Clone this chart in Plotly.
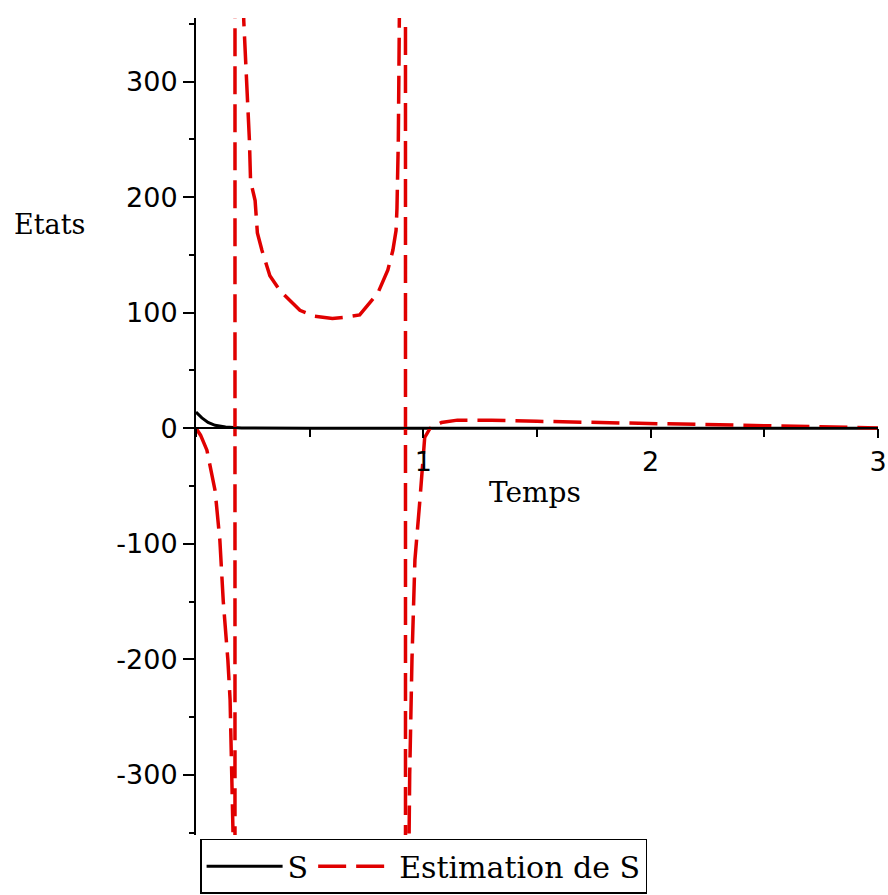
import plotly.graph_objects as go

# Data
t_s = [0, 0.01, 0.026, 0.053, 0.084, 0.13, 0.2, 0.5, 1.0, 1.5, 2.0, 2.5, 3.0]
s_vals = [14, 12, 9, 5, 2.5, 1, 0.3, 0, 0, 0, 0, 0, 0]

t_est = [0, 0.02, 0.048, 0.084, 0.105, 0.12, 0.14, 0.15, 0.163, 0.171, 0.172,
         0.205, 0.21, 0.225, 0.235, 0.24, 0.26, 0.27, 0.29, 0.325, 0.37, 0.457,
         0.523, 0.6, 0.655, 0.72, 0.8, 0.844, 0.866, 0.88, 0.884, 0.89, 0.897,
         0.905, 0.921, 0.922, 0.935, 0.94, 0.95, 0.963, 0.985, 0.998, 1.006,
         1.03, 1.08, 1.15, 1.3, 1.5, 1.75, 2.0, 2.2, 2.5, 2.75, 3.0]
est_vals = [0, -6, -19, -54, -97, -150, -200, -235, -352, -5000, 5000,
            420, 353, 297, 249, 214, 197, 169, 154, 132, 119, 102,
            97, 95, 96, 98, 117, 137, 154, 171, 190, 250, 350,
            600, 5000, -5000, -400, -300, -200, -114, -62, -23, -8,
            0, 5, 7, 7, 6, 5, 4, 3, 2, 1, 0.3]

y_ticks = [-300, -200, -100, 0, 100, 200, 300]
y_tick_text = ["-300", "-200", "-100", "0", "100", "200", "300"]
x_ticks = [1, 2, 3]
x_tick_text = ["1", "2", "3"]
y_range = [-352, 355]
x_range = [0, 3]

fig = go.Figure()
fig.add_trace(go.Scatter(x=t_s, y=s_vals, mode="lines", name="S",
                         line=dict(color="black", width=3)))
fig.add_trace(go.Scatter(x=t_est, y=est_vals, mode="lines", name="Estimation de S",
                         line=dict(color="#e00000", width=3.5, dash="28px,10px")))

zero_pos = (0 - y_range[0]) / (y_range[1] - y_range[0])

fig.update_layout(
    width=888, height=895,
    margin=dict(l=196, r=10, t=18, b=60, autoexpand=False),
    plot_bgcolor="white", paper_bgcolor="white",
    font=dict(family="DejaVu Sans", color="black"),
    xaxis=dict(range=x_range, anchor="free", position=zero_pos, automargin=False,
               showline=True, linecolor="black", linewidth=2,
               tickvals=x_ticks, ticktext=x_tick_text,
               ticks="outside", ticklen=9, tickwidth=1.5, tickcolor="black",
               minor=dict(dtick=0.5, ticks="outside", ticklen=8, tickwidth=1.5, tickcolor="black"),
               tickfont=dict(size=27, family="DejaVu Sans"),
               showgrid=False, zeroline=False),
    yaxis=dict(range=y_range, automargin=False,
               showline=True, linecolor="black", linewidth=2,
               tickvals=y_ticks, ticktext=y_tick_text,
               ticks="outside", ticklen=11, tickwidth=1.5, tickcolor="black",
               minor=dict(dtick=50, tick0=0, ticks="outside", ticklen=5, tickwidth=1.5, tickcolor="black"),
               tickfont=dict(size=27, family="DejaVu Sans"),
               showgrid=False, zeroline=False),
    legend=dict(orientation="h", x=0.006, xanchor="left", y=-0.072, yanchor="bottom",
                bordercolor="black", borderwidth=1.5, bgcolor="white",
                font=dict(size=30, family="DejaVu Serif"), itemwidth=76),
    annotations=[
        dict(text="Etats", xref="paper", yref="y", x=-0.27, y=176,
             xanchor="left", yanchor="middle", showarrow=False,
             font=dict(size=27, family="DejaVu Serif")),
        dict(text="Temps", xref="x", yref="y", x=1.49, y=-56,
             xanchor="center", yanchor="middle", showarrow=False,
             font=dict(size=28, family="DejaVu Serif")),
    ],
)

fig.write_html("out.html", config={"displayModeBar": False},
               post_script="document.body.style.margin='0';document.body.style.overflow='hidden';")
